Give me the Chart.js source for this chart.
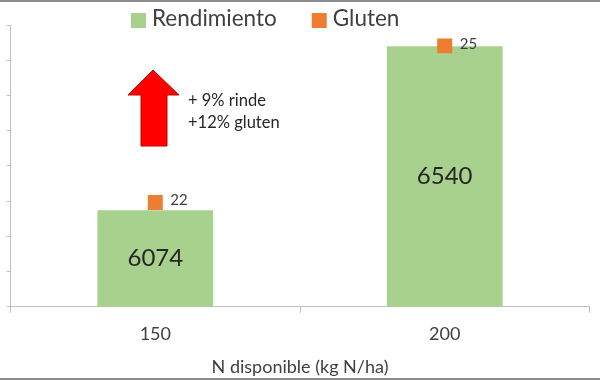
<!DOCTYPE html>
<html>
<head>
<meta charset="utf-8">
<script src="https://cdn.jsdelivr.net/npm/chart.js@4.4.1/dist/chart.umd.min.js"></script>
<style>
  html, body { margin: 0; padding: 0; background: #fff; }
</style>
</head>
<body>
<canvas id="grafico" width="600" height="380"></canvas>
<script>
// datos
const categorias = ['150', '200'];
const rendimiento = [6074, 6540];
const gluten = [22, 25];
const ejeRend = [5800, 6600, 100];   // min, max, paso (eje izq. sin etiquetas)
const ejeGluten = [20, 25.4];        // eje secundario oculto
const nota = ['+ 9% rinde', '+12% gluten'];

const fuente = 'Lato, "Open Sans", sans-serif';
const gris = '#404040';

const decor = {
  id: 'decor',
  afterDatasetsDraw(chart) {
    const ctx = chart.ctx;
    const fondo = chart.scales.y.bottom;
    ctx.save();

    // valores dentro de las barras
    ctx.fillStyle = '#262626';
    ctx.font = '24px ' + fuente;
    ctx.textAlign = 'center';
    ctx.textBaseline = 'middle';
    chart.getDatasetMeta(0).data.forEach((bar, i) => {
      ctx.fillText(String(rendimiento[i]), bar.x, (bar.y + fondo) / 2);
    });

    // etiquetas gluten
    ctx.fillStyle = gris;
    ctx.font = '15px ' + fuente;
    ctx.textAlign = 'left';
    chart.getDatasetMeta(1).data.forEach((pt, i) => {
      ctx.fillText(String(gluten[i]), pt.x + 15, pt.y - 2);
    });

    // leyenda
    ctx.font = '22.5px ' + fuente;
    let x = 131;
    chart.data.datasets.forEach(ds => {
      ctx.fillStyle = ds.backgroundColor;
      ctx.fillRect(x, 13, 15, 15);
      ctx.fillStyle = gris;
      ctx.fillText(ds.label, x + 21, 19);
      x += 21 + ctx.measureText(ds.label).width + 35;
    });

    // flecha roja
    ctx.beginPath();
    ctx.moveTo(153, 70);
    ctx.lineTo(179, 95);
    ctx.lineTo(167, 95);
    ctx.lineTo(167, 146);
    ctx.lineTo(141, 146);
    ctx.lineTo(141, 95);
    ctx.lineTo(128, 95);
    ctx.closePath();
    ctx.fillStyle = '#ff0000';
    ctx.fill();
    ctx.strokeStyle = '#c00000';
    ctx.lineWidth = 1;
    ctx.stroke();

    ctx.fillStyle = '#262626';
    ctx.font = '16.5px ' + fuente;
    ctx.fillText(nota[0], 188, 101);
    ctx.fillText(nota[1], 188, 123);

    // marco
    ctx.strokeStyle = '#8c8c8c';
    ctx.lineWidth = 2;
    ctx.beginPath();
    ctx.moveTo(0, 1); ctx.lineTo(600, 1);
    ctx.moveTo(0, 379); ctx.lineTo(600, 379);
    ctx.stroke();
    ctx.restore();
  }
};

const grafico = new Chart(document.getElementById('grafico'), {
  data: {
    labels: categorias,
    datasets: [{
      type: 'bar',
      label: 'Rendimiento',
      data: rendimiento,
      backgroundColor: '#a9d18e',
      categoryPercentage: 1,
      barPercentage: 0.4,
      yAxisID: 'y',
      order: 1
    }, {
      type: 'line',
      label: 'Gluten',
      data: gluten,
      showLine: false,
      pointStyle: 'rect',
      pointRadius: 10.6,
      pointBorderWidth: 0,
      backgroundColor: '#ed7d31',
      borderColor: '#ed7d31',
      yAxisID: 'y1',
      order: 0
    }]
  },
  options: {
    responsive: false,
    animation: false,
    devicePixelRatio: 1,
    layout: { padding: { top: 25, left: 0, right: 0, bottom: 0 } },
    plugins: {
      legend: { display: false },
      tooltip: { enabled: false }
    },
    scales: {
      x: {
        grid: { drawOnChartArea: false, tickLength: 6, color: '#bfbfbf' },
        border: { color: '#bfbfbf' },
        ticks: { color: gris, font: { size: 18, family: fuente }, padding: 11 },
        title: {
          display: true,
          text: 'N disponible (kg N/ha)',
          color: gris,
          font: { size: 18, family: fuente },
          padding: { top: 0, bottom: 2 }
        }
      },
      y: {
        min: ejeRend[0],
        max: ejeRend[1],
        ticks: { stepSize: ejeRend[2], display: false },
        grid: { drawOnChartArea: false, tickLength: 4, color: '#bfbfbf' },
        border: { color: '#bfbfbf' }
      },
      y1: {
        display: false,
        min: ejeGluten[0],
        max: ejeGluten[1]
      }
    }
  },
  plugins: [decor]
});
</script>
</body>
</html>
